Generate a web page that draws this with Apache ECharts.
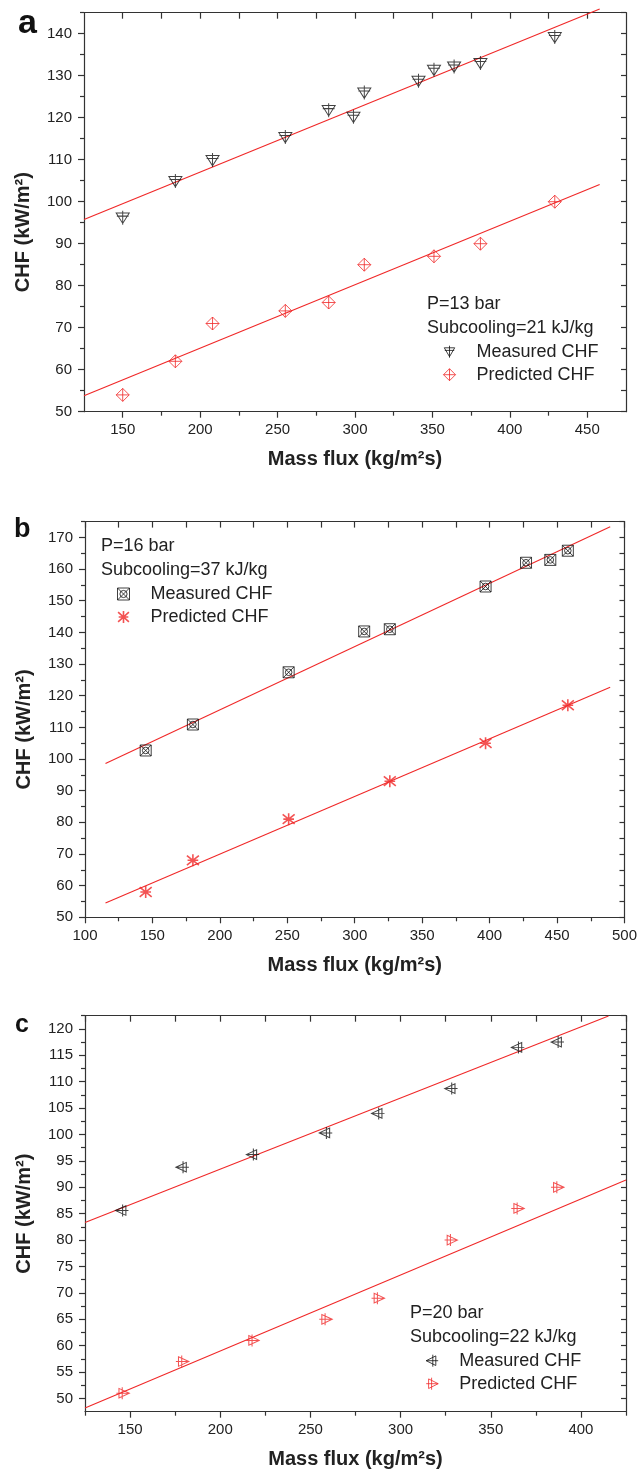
<!DOCTYPE html>
<html>
<head>
<meta charset="utf-8">
<title>CHF versus mass flux</title>
<script src="https://cdn.jsdelivr.net/npm/echarts@6/dist/echarts.min.js"></script>
<style>
  html, body { margin: 0; padding: 0; background: #fff; }
  #chart { width: 640px; height: 1474px; }
</style>
</head>
<body>
<div id="chart"></div>
<script>
// ---- Panel a : P = 13 bar, subcooling 21 kJ/kg ----
const fluxA_meas = [150, 184, 208, 255, 283, 299, 306, 341, 351, 364, 381, 429];
const chfA_meas  = [96.2, 104.9, 109.9, 115.4, 121.8, 120.2, 126.0, 128.8, 131.4, 132.2, 133.0, 139.2];
const fluxA_pred = [150, 184, 208, 255, 283, 306, 351, 381, 429];
const chfA_pred  = [54, 62, 71, 74, 76, 85, 87, 90, 100];
const fitFluxA      = [125, 458];
const fitChfA_meas  = [95.75, 145.9];
const fitChfA_pred  = [53.8, 104.1];

// ---- Panel b : P = 16 bar, subcooling 37 kJ/kg ----
const fluxB_meas = [145, 180, 251, 307, 326, 397, 427, 445, 458];
const chfB_meas  = [102.7, 110.9, 127.4, 140.3, 141.0, 154.5, 162.0, 162.9, 165.8];
const fluxB_pred = [145, 180, 251, 326, 397, 458];
const chfB_pred  = [58, 68, 81, 93, 105, 117];
const fitFluxB      = [115.2, 489.4];
const fitChfB_meas  = [98.55, 173.4];
const fitChfB_pred  = [54.5, 122.7];

// ---- Panel c : P = 20 bar, subcooling 22 kJ/kg ----
const fluxC_meas = [145.5, 179, 218, 258.5, 287.5, 328, 365, 387];
const chfC_meas  = [85.6, 93.8, 96.2, 100.3, 104.0, 108.7, 116.5, 117.5];
const fluxC_pred = [146, 179, 218, 258.5, 287.5, 328, 365, 387];
const chfC_pred  = [51, 57, 61, 65, 69, 80, 86, 90];
const fitFluxC      = [125, 415.3];
const fitChfC_meas  = [83.35, 122.45];
const fitFluxC_pred = [125, 425];
const fitChfC_pred  = [48.2, 91.4];

// ---- Axis ranges and tick values ----
const xRangeA = [125, 475], yRangeA = [50, 145];
const xTicksA = [150, 200, 250, 300, 350, 400, 450];
const xMinorA = [175, 225, 275, 325, 375, 425];
const yTicksA = [50, 60, 70, 80, 90, 100, 110, 120, 130, 140];
const yMinorA = [55, 65, 75, 85, 95, 105, 115, 125, 135, 145];

const xRangeB = [100, 500], yRangeB = [50, 175];
const xTicksB = [100, 150, 200, 250, 300, 350, 400, 450, 500];
const xMinorB = [125, 175, 225, 275, 325, 375, 425, 475];
const yTicksB = [50, 60, 70, 80, 90, 100, 110, 120, 130, 140, 150, 160, 170];
const yMinorB = [55, 65, 75, 85, 95, 105, 115, 125, 135, 145, 155, 165, 175];

const xRangeC = [125, 425], yRangeC = [47.5, 122.5];
const xTicksC = [150, 200, 250, 300, 350, 400];
const xMinorC = [125, 175, 225, 275, 325, 375, 425];
const yTicksC = [50, 55, 60, 65, 70, 75, 80, 85, 90, 95, 100, 105, 110, 115, 120];
const yMinorC = [52.5, 57.5, 62.5, 67.5, 72.5, 77.5, 82.5, 87.5, 92.5, 97.5, 102.5, 107.5, 112.5, 117.5, 122.5];

const FONT = '"Liberation Sans", Arial, Helvetica, sans-serif';
const AXIS = '#333';
const RED = '#f02828';
const CLEAR = 'rgba(0,0,0,0)';

// marker outlines (stroked, unfilled)
const SYM = {
  triDownPlus:  'path://M0,4 L20,4 L10,21 Z M10,0 L10,23 M1,9 L19,9',
  diamondPlus:  'path://M10,0 L20,10 L10,20 L0,10 Z M10,0 L10,20 M0,10 L20,10',
  squareXO:     'path://M0,0 L20,0 L20,20 L0,20 Z M0,0 L20,20 M20,0 L0,20 M16,10 A6,6,0,1,1,4,10 A6,6,0,1,1,16,10',
  asterisk:     'path://M1,2 L19,18 M19,2 L1,18 M10,0 L10,20 M2,10 L18,10',
  triLeftPlus:  'path://M2,10 L18,2 L18,18 Z M13,0 L13,20 M2,10 L22,10',
  triRightPlus: 'path://M18,10 L2,2 L2,18 Z M7,0 L7,20 M-2,10 L18,10'
};

const LEGEND_TEXT = {
  measA: 'Measured CHF', predA: 'Predicted CHF',
  measB: 'Measured CHF', predB: 'Predicted CHF',
  measC: 'Measured CHF', predC: 'Predicted CHF'
};

const pairs = (xs, ys) => xs.map((x, i) => [x, ys[i]]);

const panels = [
  { grid: { left: 84, top: 12.7, width: 542, height: 399 },
    xr: xRangeA, yr: yRangeA, xt: xTicksA, xm: xMinorA, yt: yTicksA, ym: yMinorA, yNamePad: 40,
    meas: pairs(fluxA_meas, chfA_meas), pred: pairs(fluxA_pred, chfA_pred),
    fitMeas: pairs(fitFluxA, fitChfA_meas), fitPred: pairs(fitFluxA, fitChfA_pred),
    names: ['measA', 'predA'], symMeas: SYM.triDownPlus, symPred: SYM.diamondPlus,
    sizeMeas: [13, 14], sizePred: [13, 13], predWidth: 1 },
  { grid: { left: 85, top: 521.6, width: 541, height: 395.7 },
    xr: xRangeB, yr: yRangeB, xt: xTicksB, xm: xMinorB, yt: yTicksB, ym: yMinorB, yNamePad: 20,
    meas: pairs(fluxB_meas, chfB_meas), pred: pairs(fluxB_pred, chfB_pred),
    fitMeas: pairs(fitFluxB, fitChfB_meas), fitPred: pairs(fitFluxB, fitChfB_pred),
    names: ['measB', 'predB'], symMeas: SYM.squareXO, symPred: SYM.asterisk,
    sizeMeas: [11, 11], sizePred: [12, 12], predWidth: 1.6 },
  { grid: { left: 85, top: 1015.7, width: 541, height: 396 },
    xr: xRangeC, yr: yRangeC, xt: xTicksC, xm: xMinorC, yt: yTicksC, ym: yMinorC, yNamePad: 0,
    meas: pairs(fluxC_meas, chfC_meas), pred: pairs(fluxC_pred, chfC_pred),
    fitMeas: pairs(fitFluxC, fitChfC_meas), fitPred: pairs(fitFluxC_pred, fitChfC_pred),
    names: ['measC', 'predC'], symMeas: SYM.triLeftPlus, symPred: SYM.triRightPlus,
    sizeMeas: [13, 12], sizePred: [13, 12], predWidth: 1 }
];

const grid = [], xAxis = [], yAxis = [], series = [];

panels.forEach((p, i) => {
  grid.push(p.grid);
  const lineStyle = { color: AXIS, width: 1.2 };
  const allX = p.xt.concat(p.xm).sort((a, b) => a - b);
  const allY = p.yt.concat(p.ym).sort((a, b) => a - b);
  const base = { type: 'value', gridIndex: i, splitLine: { show: false } };

  // bottom: major ticks + labels + title
  xAxis.push(Object.assign({}, base, {
    position: 'bottom', min: p.xr[0], max: p.xr[1],
    axisLine: { show: true, onZero: false, lineStyle },
    axisTick: { show: true, inside: false, length: 6, lineStyle, customValues: p.xt },
    axisLabel: { show: true, margin: 11, fontSize: 15, color: '#222', fontFamily: FONT, customValues: p.xt },
    name: 'Mass flux (kg/m²s)', nameLocation: 'middle', nameGap: 38,
    nameTextStyle: { fontSize: 20, fontWeight: 'bold', color: '#222', fontFamily: FONT }
  }));
  // bottom: minor ticks
  xAxis.push(Object.assign({}, base, {
    position: 'bottom', min: p.xr[0], max: p.xr[1],
    axisLine: { show: false, onZero: false },
    axisTick: { show: true, inside: false, length: 4, lineStyle, customValues: p.xm },
    axisLabel: { show: false }
  }));
  // top mirror axis, ticks pointing in
  xAxis.push(Object.assign({}, base, {
    position: 'top', min: p.xr[0], max: p.xr[1],
    axisLine: { show: true, onZero: false, lineStyle },
    axisTick: { show: true, inside: true, length: 6, lineStyle, customValues: allX },
    axisLabel: { show: false }
  }));

  // left: major ticks + labels + title
  yAxis.push(Object.assign({}, base, {
    position: 'left', min: p.yr[0], max: p.yr[1],
    axisLine: { show: true, onZero: false, lineStyle },
    axisTick: { show: true, inside: false, length: 6, lineStyle, customValues: p.yt },
    axisLabel: { show: true, margin: 12, fontSize: 15, color: '#222', fontFamily: FONT, customValues: p.yt },
    name: 'CHF (kW/m²)', nameLocation: 'middle', nameGap: 51,
    nameTextStyle: { fontSize: 20, fontWeight: 'bold', color: '#222', fontFamily: FONT,
                     padding: [0, p.yNamePad, 0, 0] }
  }));
  // left: minor ticks
  yAxis.push(Object.assign({}, base, {
    position: 'left', min: p.yr[0], max: p.yr[1],
    axisLine: { show: false, onZero: false },
    axisTick: { show: true, inside: false, length: 4, lineStyle, customValues: p.ym },
    axisLabel: { show: false }
  }));
  // right mirror axis, ticks pointing in
  yAxis.push(Object.assign({}, base, {
    position: 'right', min: p.yr[0], max: p.yr[1],
    axisLine: { show: true, onZero: false, lineStyle },
    axisTick: { show: true, inside: true, length: 5, lineStyle, customValues: allY },
    axisLabel: { show: false }
  }));

  const xi = i * 3, yi = i * 3;
  // least-squares lines
  series.push({
    type: 'line', xAxisIndex: xi, yAxisIndex: yi, data: p.fitMeas, symbol: 'none', clip: false,
    lineStyle: { color: RED, width: 1.1 }, silent: true, z: 1
  });
  series.push({
    type: 'line', xAxisIndex: xi, yAxisIndex: yi, data: p.fitPred, symbol: 'none', clip: false,
    lineStyle: { color: RED, width: 1.1 }, silent: true, z: 1
  });
  // measured points
  series.push({
    name: p.names[0], type: 'scatter', xAxisIndex: xi, yAxisIndex: yi, data: p.meas,
    symbol: p.symMeas, symbolSize: p.sizeMeas, z: 3,
    itemStyle: { color: CLEAR, borderColor: '#111', borderWidth: 1 }
  });
  // predicted points
  series.push({
    name: p.names[1], type: 'scatter', xAxisIndex: xi, yAxisIndex: yi, data: p.pred,
    symbol: p.symPred, symbolSize: p.sizePred, z: 3,
    itemStyle: { color: CLEAR, borderColor: RED, borderWidth: p.predWidth }
  });
});

// legend: icon centred at iconX, label starting 27 px to its right
const legendBox = (names, iconX, top, widths) => ({
  data: names.map((n, k) => ({
    name: n,
    itemStyle: { color: CLEAR, borderColor: k === 0 ? '#111' : RED, borderWidth: widths[k] }
  })),
  left: iconX - 6, top, orient: 'vertical', padding: 0, itemGap: 5,
  itemWidth: 12, itemHeight: 12, selectedMode: false,
  formatter: (n) => LEGEND_TEXT[n],
  textStyle: { fontSize: 18, lineHeight: 18, color: '#222', fontFamily: FONT, padding: [0, 0, 0, 16] }
});

const headerText = (text, x, y) => ({
  type: 'text', x, y,
  style: { text, fontSize: 18, fontFamily: FONT, fill: '#222', textVerticalAlign: 'middle' }
});
const panelLetter = (text, x, y, size) => ({
  type: 'text', x, y,
  style: { text, fontSize: size, fontWeight: 'bold', fontFamily: FONT, fill: '#111', textVerticalAlign: 'bottom' }
});

const option = {
  animation: false,
  backgroundColor: '#fff',
  grid, xAxis, yAxis, series,
  legend: [
    legendBox(['measA', 'predA'], 449, 342.7, [1, 1]),
    legendBox(['measB', 'predB'], 123, 585, [1, 1.6]),
    legendBox(['measC', 'predC'], 431.7, 1351.7, [1, 1])
  ],
  graphic: [
    headerText('P=13 bar', 427, 304),
    headerText('Subcooling=21 kJ/kg', 427, 327.7),
    headerText('P=16 bar', 101, 546),
    headerText('Subcooling=37 kJ/kg', 101, 570.5),
    headerText('P=20 bar', 410, 1313.3),
    headerText('Subcooling=22 kJ/kg', 410, 1336.7),
    panelLetter('a', 18, 41, 34),
    panelLetter('b', 14, 543, 27),
    panelLetter('c', 15, 1038, 25)
  ]
};

const chart = echarts.init(document.getElementById('chart'), null, { renderer: 'canvas' });
chart.setOption(option);
</script>
</body>
</html>
